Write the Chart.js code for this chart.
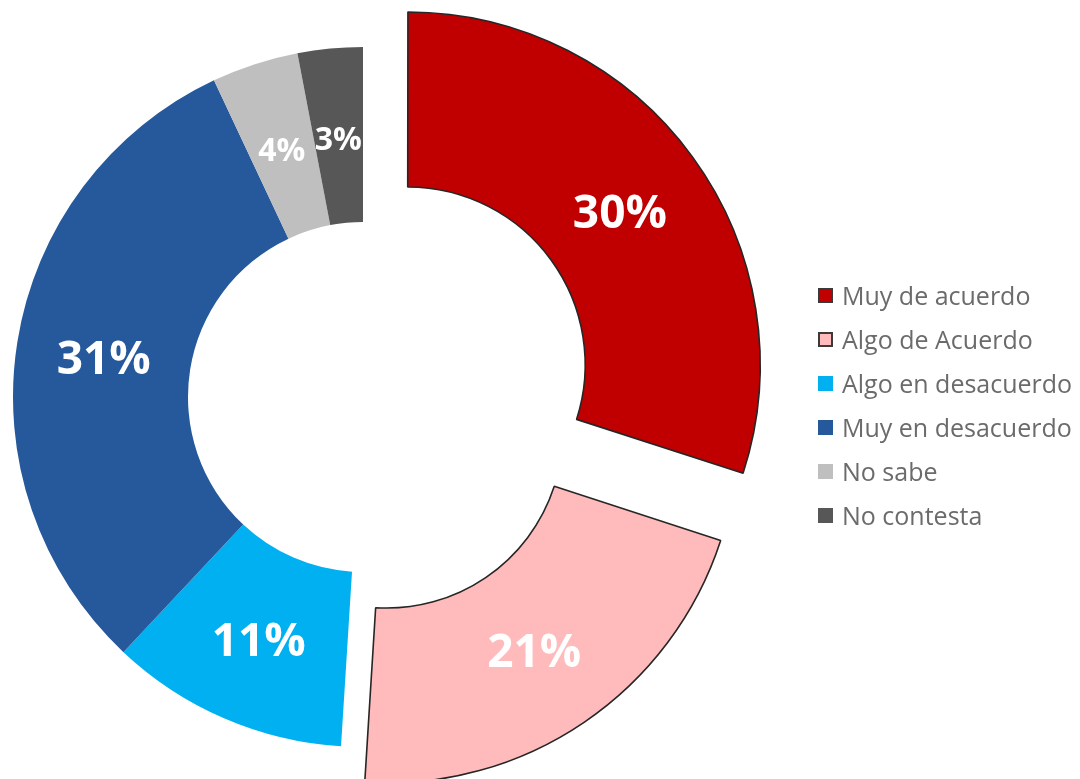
<!DOCTYPE html>
<html lang="es">
<head>
<meta charset="utf-8">
<title>Opinión</title>
<script src="https://cdn.jsdelivr.net/npm/chart.js@4.4.1/dist/chart.umd.min.js"></script>
<style>
  html, body { margin: 0; padding: 0; background: #ffffff; overflow: hidden; }
  #wrap { position: relative; width: 1080px; height: 779px; }
  #chart { position: absolute; left: 0; top: 0; }
  #legend {
    position: absolute; left: 818px; top: 273px; margin: 0; padding: 0; list-style: none;
    font-family: "Open Sans", "Noto Sans", sans-serif; font-size: 25px; color: #6b6b6b;
  }
  #legend li { height: 44px; display: flex; align-items: center; white-space: nowrap; }
  #legend .box { width: 15px; height: 15px; box-sizing: border-box; margin-right: 9px; flex: none; }
</style>
</head>
<body>
<div id="wrap">
  <canvas id="chart" width="1080" height="779"></canvas>
  <ul id="legend"></ul>
</div>
<script>
// Answer categories and their shares (percent)
const categories = ['Muy de acuerdo', 'Algo de Acuerdo', 'Algo en desacuerdo', 'Muy en desacuerdo', 'No sabe', 'No contesta'];
const shares = [30, 21, 11, 31, 4, 3];
const sliceColors = ['#C00000', '#FFBBBB', '#00B0F0', '#26599B', '#BFBFBF', '#575757'];
const outlined = [true, true, false, false, false, false];
const pulledOut = [220, 168, 0, 0, 0, 0];
const labelSizes = [46, 46, 46, 46, 32, 32];

// Writes each share as a percentage in the middle of its ring segment,
// moved along with the segment when it is pulled out
const sliceLabels = {
  id: 'sliceLabels',
  afterDatasetsDraw(chart) {
    const ctx = chart.ctx;
    const meta = chart.getDatasetMeta(0);
    ctx.save();
    ctx.fillStyle = '#ffffff';
    ctx.textAlign = 'center';
    ctx.textBaseline = 'middle';
    meta.data.forEach((arc, i) => {
      const mid = (arc.startAngle + arc.endAngle) / 2;
      const r = (arc.innerRadius + arc.outerRadius) / 2 + (arc.options.offset || 0) / 4;
      ctx.font = 'bold ' + labelSizes[i] + 'px "Open Sans", "Noto Sans", sans-serif';
      ctx.fillText(shares[i] + '%', arc.x + Math.cos(mid) * r, arc.y + Math.sin(mid) * r + 5);
    });
    ctx.restore();
  }
};

const chart = new Chart(document.getElementById('chart'), {
  type: 'doughnut',
  data: {
    labels: categories,
    datasets: [{
      data: shares,
      backgroundColor: sliceColors,
      borderColor: outlined.map(o => o ? '#262626' : 'rgba(0,0,0,0)'),
      borderWidth: outlined.map(o => o ? 1.6 : 0),
      offset: pulledOut,
      hoverOffset: 0,
      clip: false
    }]
  },
  options: {
    responsive: false,
    animation: false,
    radius: 350,
    cutout: '50%',
    layout: { padding: { top: 15, right: 354, left: 0, bottom: 0 } },
    plugins: {
      legend: { display: false },
      tooltip: { enabled: false }
    },
    events: []
  },
  plugins: [sliceLabels]
});

// Legend list built from the same categories and colours
const legend = document.getElementById('legend');
categories.forEach((name, i) => {
  const li = document.createElement('li');
  const box = document.createElement('span');
  box.className = 'box';
  box.style.background = sliceColors[i];
  if (outlined[i]) box.style.border = '2px solid #3a3a3a';
  li.appendChild(box);
  li.appendChild(document.createTextNode(name));
  legend.appendChild(li);
});
</script>
</body>
</html>
